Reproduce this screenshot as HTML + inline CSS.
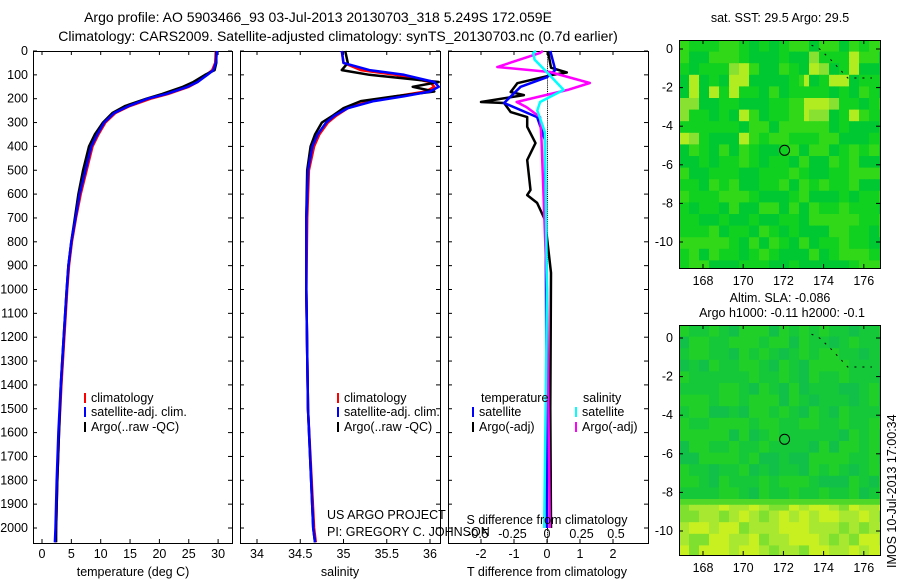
<!DOCTYPE html>
<html><head><meta charset="utf-8"><style>
body{margin:0;background:#fff;}
svg{display:block;font-family:"Liberation Sans",sans-serif;}
text{font-size:12.5px;fill:#000;}
.tt{font-size:14px;}
</style></head><body>
<svg id="c" width="900" height="580" xmlns="http://www.w3.org/2000/svg">
<defs><clipPath id="cp1"><rect x="679" y="40" width="201" height="228"/></clipPath><clipPath id="cp2"><rect x="679" y="325" width="201" height="230"/></clipPath></defs>
<text class="tt" x="318" y="22" text-anchor="middle">Argo profile: AO 5903466_93 03-Jul-2013 20130703_318 5.249S 172.059E</text>
<text class="tt" x="338" y="41" text-anchor="middle">Climatology: CARS2009. Satellite-adjusted climatology: synTS_20130703.nc (0.7d earlier)</text>
<g id="g"></g>
</svg>
<script>
// ---- data ----
const tDepth=[0,50,80,100,130,150,180,200,230,260,300,350,400,500,600,700,800,900,1000,1200,1400,1600,1800,2000,2060];
const tClim=[29.6,29.5,29.0,28.0,26.5,25.0,21.5,18.5,15.0,12.5,10.8,9.6,8.6,7.6,6.6,5.8,5.1,4.6,4.3,3.8,3.3,2.9,2.6,2.4,2.3];
const tSat=[29.8,29.6,29.2,28.2,26.5,24.8,21.2,18.0,14.8,12.3,10.6,9.4,8.4,7.4,6.4,5.7,5.0,4.5,4.2,3.7,3.2,2.8,2.5,2.3,2.2];
const tArgo=[29.7,29.7,29.4,27.8,25.8,24.0,20.5,17.8,14.2,12.0,10.4,9.0,8.0,7.0,6.2,5.6,5.0,4.5,4.2,3.7,3.2,2.9,2.6,2.4,2.4];
const sDepth=[0,50,80,100,130,150,170,190,210,240,270,300,350,400,500,700,1000,1500,2000,2060];
const sClim=[34.98,35.0,35.2,35.6,36.0,36.05,35.95,35.6,35.3,35.05,34.92,34.82,34.72,34.66,34.6,34.58,34.57,34.59,34.66,34.68];
const sSat=[34.98,35.0,35.3,35.7,36.05,36.1,36.0,35.7,35.35,35.05,34.9,34.8,34.7,34.64,34.59,34.57,34.57,34.59,34.65,34.67];
const sArgo=[35.02,35.05,34.98,35.3,36.1,35.8,36.05,35.6,35.2,35.0,34.88,34.75,34.67,34.62,34.58,34.57,34.57,34.59,34.65,34.67];
const dtArgoD=[0,70,90,100,135,172,185,214,218,256,277,318,386,457,583,604,637,708,930,1500,2000];
const dtArgo=[0.03,0.12,0.6,0.18,-0.9,-1.1,-0.7,-2.0,-1.3,-1.1,-0.6,-0.6,-0.35,-0.6,-0.5,-0.6,-0.3,-0.06,0.12,0.1,0.12];
const dtSatD=[0,80,110,150,218,277,373,1000,2000];
const dtSat=[0.1,0.25,0,-0.8,-1.3,-0.3,-0.06,-0.03,0];
const dsArgoD=[0,8,67,88,134,163,214,235,277,373,1000,2000];
const dsArgo=[-0.03,-0.05,-0.36,0.02,0.31,0.15,-0.22,-0.15,-0.05,-0.04,0.0,0.02];
const dsSatD=[0,8,36,102,163,214,250,340,1000,2000];
const dsSat=[-0.08,-0.1,-0.09,0.02,0.12,-0.05,-0.07,-0.015,0,-0.02];
const depthTicks=[0,100,200,300,400,500,600,700,800,900,1000,1100,1200,1300,1400,1500,1600,1700,1800,1900,2000];
const tTicks=[0,5,10,15,20,25,30];
const sTicks=[34,34.5,35,35.5,36];
const dtTicks=[-2,-1,0,1,2];
const dsTicks=[-0.5,-0.25,0,0.25,0.5];
const lonTicks=[168,170,172,174,176];
const latTicks=[0,-2,-4,-6,-8,-10];
const argoLon=172.059, argoLat=-5.249;

const NS="http://www.w3.org/2000/svg";
const G=document.getElementById('g');
function el(t,a,p){const e=document.createElementNS(NS,t);for(const k in a)e.setAttribute(k,a[k]);(p||G).appendChild(e);return e;}
const yD=d=>51+d*0.2385;
const P1=[33,51,232,543],P2=[240,51,440,543],P3=[448,51,648,543];
const xT=v=>42+v*5.87, xS=v=>257+(v-34)*86.5, xDT=v=>547+v*33, xDS=v=>547+v*138;
function frame(p,name){const r=el('rect',{x:p[0]+.5,y:p[1]+.5,width:p[2]-p[0],height:p[3]-p[1],fill:'none',stroke:'#000'});


depthTicks.forEach(d=>{const y=yD(d);el('line',{x1:p[0],x2:p[0]+4,y1:y,y2:y,stroke:'#000'});el('line',{x1:p[2]-4,x2:p[2],y1:y,y2:y,stroke:'#000'});});}
function xticks(p,ticks,fx,y,name){ticks.forEach(v=>{const x=fx(v);el('line',{x1:x,x2:x,y1:p[3],y2:p[3]-4,stroke:'#000'});el('line',{x1:x,x2:x,y1:p[1],y2:p[1]+4,stroke:'#000'});
const t=el('text',{x:x,y:y,'text-anchor':'middle'});t.textContent=String(v);

});}
function line(ds,vs,fx,col,w,name){const pts=ds.map((d,i)=>fx(vs[i]).toFixed(1)+','+yD(d).toFixed(1)).join(' ');
const l=el('polyline',{points:pts,fill:'none',stroke:col,'stroke-width':w,'stroke-linejoin':'round'});

}
function txt(x,y,s,name,anchor){const t=el('text',{x:x,y:y,'text-anchor':anchor||'start'});t.textContent=s;

return t;}
function leg(x,y,col,s,name){el('line',{x1:x,x2:x,y1:y-9,y2:y+1,stroke:col,'stroke-width':2});txt(x+6,y,s,name);}

// panel 1
frame(P1,'temperature-panel');
depthTicks.forEach(d=>txt(28,yD(d)+4,String(d),'depth-tick-label','end'));
xticks(P1,tTicks,xT,558,'temperature-tick-label');
line(tDepth,tClim,xT,'#f00',2.5,'temperature-climatology-line');
line(tDepth,tArgo,xT,'#000',2.5,'temperature-argo-line');
line(tDepth,tSat,xT,'#00f',2.5,'temperature-satellite-line');
txt(133,576,'temperature (deg C)','temperature-axis-title','middle');
leg(85,402,'#f00','climatology','legend-climatology');
leg(85,416,'#00f','satellite-adj. clim.','legend-satellite');
leg(85,431,'#000','Argo(..raw -QC)','legend-argo');
// panel 2
frame(P2,'salinity-panel');
xticks(P2,sTicks,xS,558,'salinity-tick-label');
line(sDepth,sClim,xS,'#f00',2.5,'salinity-climatology-line');
line(sDepth,sArgo,xS,'#000',2.5,'salinity-argo-line');
line(sDepth,sSat,xS,'#00f',2.5,'salinity-satellite-line');
txt(340,576,'salinity','salinity-axis-title','middle');
leg(338,402,'#f00','climatology','legend-climatology-2');
leg(338,416,'#00f','satellite-adj. clim.','legend-satellite-2');
leg(338,431,'#000','Argo(..raw -QC)','legend-argo-2');
txt(327,519,'US ARGO PROJECT','project-label');
txt(327,536,'PI: GREGORY C. JOHNSON','pi-label');
// panel 3
frame(P3,'difference-panel');
xticks(P3,dtTicks,xDT,558,'t-diff-tick-label');
dsTicks.forEach(v=>txt(xDS(v),538,String(v),'s-diff-tick-label','middle'));
for(let d=0;d<2060;d+=8)el('rect',{x:547,y:yD(d),width:1,height:1,fill:'#000'});
line(dtArgoD,dtArgo,xDT,'#000',2.5,'t-diff-argo-line');
line(dtSatD,dtSat,xDT,'#00f',2.5,'t-diff-satellite-line');
line(dsArgoD,dsArgo,xDS,'#f0f',2.5,'s-diff-argo-line');
line(dsSatD,dsSat,xDS,'#0ff',2.5,'s-diff-satellite-line');
txt(547,524,'S difference from climatology','s-diff-axis-title','middle');
txt(547,576,'T difference from climatology','t-diff-axis-title','middle');
txt(481,402,'temperature','legend-temperature-head');
txt(583,402,'salinity','legend-salinity-head');
leg(473,416,'#00f','satellite','legend-t-satellite');
leg(473,431,'#000','Argo(-adj)','legend-t-argo');
leg(576,416,'#0ff','satellite','legend-s-satellite');
leg(576,431,'#f0f','Argo(-adj)','legend-s-argo');

// maps
function hsh(i,j,s){let h=(i*374761393+j*668265263+s*982451653)|0;h=(h^(h>>>13))*1274126177|0;return ((h^(h>>>16))>>>0)/4294967296;}
function map(y0,y1,lat0y,kind,name){
  const x0=679,x1=880,g=el('g',{'clip-path':'url(#cp'+kind+')'});
  
  
  const cw=5,ch=5.8;
  for(let j=0;y0+j*ch<y1;j++)for(let i=0;x0+i*cw<x1;i++){
    let r=hsh(i>>1,j>>1,kind),c;
    if(kind==1){
      const bright=(i<14&&j>3&&j<18)||(i>24&&i<36&&j>1&&j<14&&r>.5);
      c=r<.35?'#00c832':r<.7?'#10d020':(bright?'#88e030':'#30d818');
      if(bright&&r>.8)c='#b0ec20';
    }else{
      const bot=j>30;
      c=r<.4?'#14c83a':r<.8?'#20d028':'#10c048';
      if(bot)c=r<.5?'#a8e830':(r<.8?'#c8f020':'#80e030');
      if(j==30)c='#50d828';
    }
    el('rect',{x:x0+i*cw,y:y0+j*ch,width:cw+.5,height:ch+.5,fill:c},g);
  }
  el('rect',{x:x0+.5,y:y0+.5,width:x1-x0,height:y1-y0,fill:'none',stroke:'#000'});
  const fx=v=>703+(v-168)*20.1, fy=v=>lat0y-v*19.3;
  lonTicks.forEach(v=>{const x=fx(v);el('line',{x1:x,x2:x,y1:y1,y2:y1-4,stroke:'#000'});el('line',{x1:x,x2:x,y1:y0,y2:y0+4,stroke:'#000'});txt(x,y1+17,String(v),'map-lon-tick-label','middle');});
  latTicks.forEach(v=>{const y=fy(v);el('line',{x1:x0,x2:x0+4,y1:y,y2:y,stroke:'#000'});el('line',{x1:x1-4,x2:x1,y1:y,y2:y,stroke:'#000'});txt(x0-6,y+4,String(v),'map-lat-tick-label','end');});
  const c=el('circle',{cx:fx(argoLon),cy:fy(argoLat),r:5,fill:'none',stroke:'#000'});
  
  
  el('polyline',{points:`${fx(173.4)},${fy(.2)} ${fx(173.8)},${fy(0)} ${fx(174.4)},${fy(-.6)} ${fx(175.2)},${fy(-1.5)} ${fx(176.4)},${fy(-1.5)}`,fill:'none',stroke:'#000','stroke-dasharray':'2 6'});
}
map(40,268,49,1,'sst-map');
map(325,555,338,2,'sla-map');
txt(780,22,'sat. SST: 29.5 Argo: 29.5','sst-map-title','middle');
txt(780,302,'Altim. SLA: -0.086','sla-map-title','middle');
txt(782,317,'Argo h1000: -0.11 h2000: -0.1','argo-height-label','middle');
const st=txt(0,0,'IMOS 10-Jul-2013 17:00:34','timestamp-label');
st.setAttribute('transform','translate(896,568) rotate(-90)');
</script>
</body></html>
